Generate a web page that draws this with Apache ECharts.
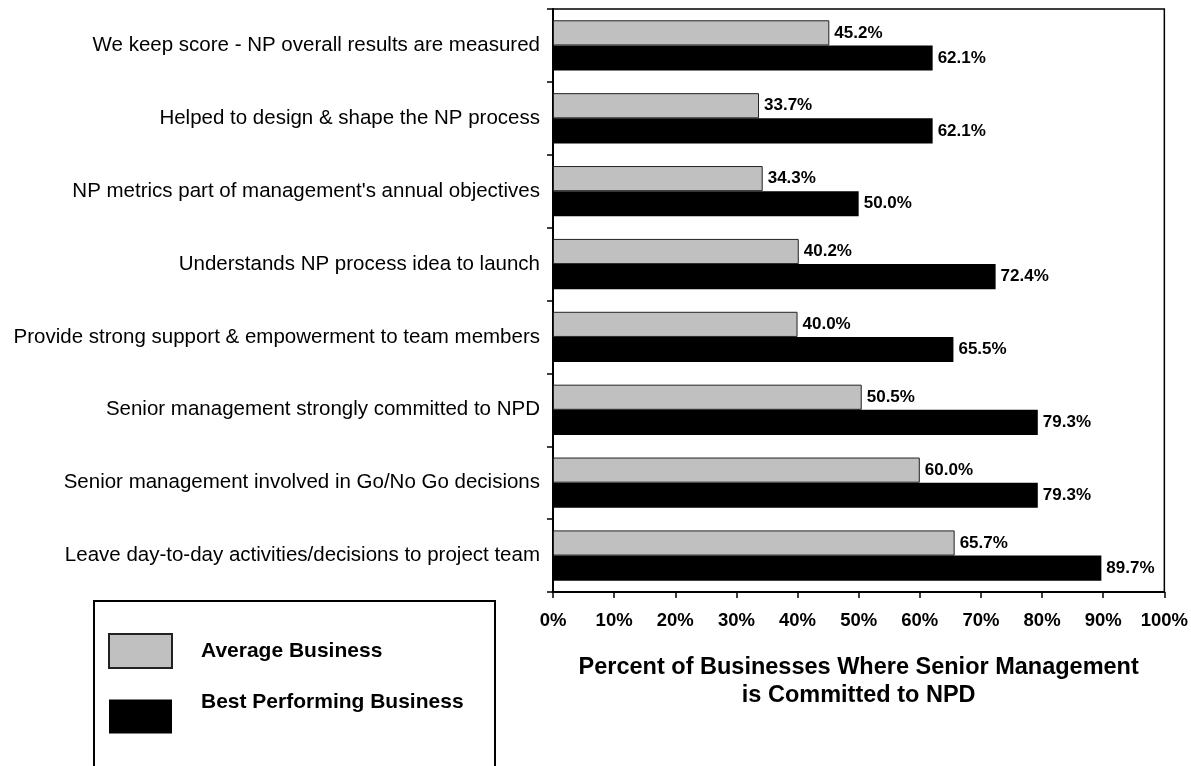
<!DOCTYPE html>
<html>
<head>
<meta charset="utf-8">
<script src="https://cdn.jsdelivr.net/npm/echarts@6/dist/echarts.min.js"></script>
<style>
  html, body { margin: 0; padding: 0; background: #fff; }
  #chart { width: 1191px; height: 766px; }
</style>
</head>
<body>
<div id="chart"></div>
<script>
const categories = [
    'We keep score - NP overall results are measured',
    'Helped to design & shape the NP process',
    "NP metrics part of management's annual objectives",
    'Understands NP process idea to launch',
    'Provide strong support & empowerment to team members',
    'Senior management strongly committed to NPD',
    'Senior management involved in Go/No Go decisions',
    'Leave day-to-day activities/decisions to project team'
];
const averageBusiness = [45.2, 33.7, 34.3, 40.2, 40.0, 50.5, 60.0, 65.7];
const bestBusiness = [62.1, 62.1, 50.0, 72.4, 65.5, 79.3, 79.3, 89.7];
const seriesNames = ['Average Business', 'Best Performing Business'];
const axisTitle = 'Percent of Businesses Where Senior Management\nis Committed to NPD';

const font = 'Arial, "Liberation Sans", sans-serif';
const chart = echarts.init(document.getElementById('chart'));

const valueLabel = {
    show: true,
    position: 'right',
    distance: 5,
    color: '#000',
    fontFamily: font,
    fontWeight: 'bold',
    fontSize: 17,
    formatter: p => p.value.toFixed(1) + '%'
};

chart.setOption({
    animation: false,
    grid: {
        left: 553, right: 26, top: 9, bottom: 174,
        show: true, borderColor: '#000', borderWidth: 1.5
    },
    graphic: [{
        type: 'rect',
        shape: { x: 94, y: 601, width: 401, height: 180 },
        style: { fill: '#fff', stroke: '#000', lineWidth: 2 },
        z: 0
    }],
    legend: {
        orient: 'vertical',
        left: 103, top: 628,
        icon: 'rect',
        itemWidth: 63, itemHeight: 34, itemGap: 23,
        // second legend text sits above the middle of its swatch
        formatter: name => name === seriesNames[1] ? '{up|' + name + '}' : name,
        textStyle: {
            color: '#000', fontFamily: font, fontWeight: 'bold', fontSize: 21,
            padding: [0, 0, 0, 24],
            rich: {
                up: {
                    color: '#000', fontFamily: font, fontWeight: 'bold', fontSize: 21,
                    padding: [0, 0, 28, 0]
                }
            }
        },
        z: 5,
        data: seriesNames
    },
    xAxis: {
        type: 'value',
        min: 0, max: 100, interval: 10,
        axisLine: { show: true, lineStyle: { color: '#000', width: 2 } },
        axisTick: { show: true, length: 6, lineStyle: { color: '#000', width: 1.5 } },
        splitLine: { show: false },
        axisLabel: {
            formatter: '{value}%', margin: 19,
            color: '#000', fontFamily: font, fontWeight: 'bold', fontSize: 18.5
        },
        name: axisTitle,
        nameLocation: 'middle',
        nameGap: 62,
        nameTextStyle: {
            color: '#000', fontFamily: font, fontWeight: 'bold', fontSize: 23.5, lineHeight: 28
        }
    },
    yAxis: {
        type: 'category',
        inverse: true,
        data: categories,
        axisLine: { show: true, lineStyle: { color: '#000', width: 2 } },
        axisTick: { show: true, length: 6, lineStyle: { color: '#000', width: 1.5 } },
        axisLabel: { margin: 13, color: '#000', fontFamily: font, fontSize: 20.5 }
    },
    series: [
        {
            name: seriesNames[0],
            type: 'bar',
            data: averageBusiness,
            barGap: '0%',
            barCategoryGap: '31%',
            itemStyle: { color: '#c0c0c0', borderColor: '#222', borderWidth: 1 },
            label: valueLabel
        },
        {
            name: seriesNames[1],
            type: 'bar',
            data: bestBusiness,
            itemStyle: { color: '#000' },
            label: valueLabel
        }
    ]
});
</script>
</body>
</html>
